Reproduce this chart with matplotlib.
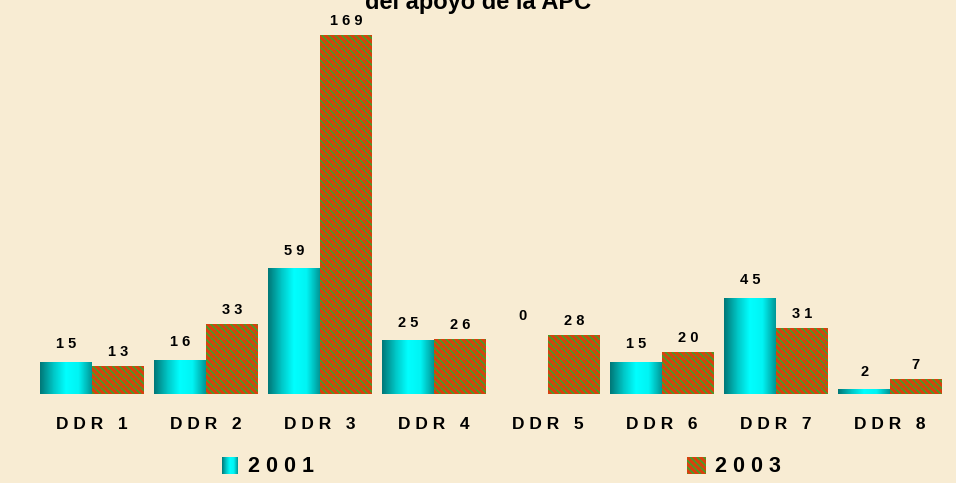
import numpy as np
import matplotlib.pyplot as plt
from matplotlib.colors import LinearSegmentedColormap

plt.rcParams['font.family'] = ['Liberation Sans', 'DejaVu Sans']
plt.rcParams['hatch.linewidth'] = 1.1

# data
categories = ['DDR 1', 'DDR 2', 'DDR 3', 'DDR 4', 'DDR 5', 'DDR 6', 'DDR 7', 'DDR 8']
v2001 = [15, 16, 59, 25, 0, 15, 45, 2]
v2003 = [13, 33, 169, 26, 28, 20, 31, 7]
series_names = ['2001', '2003']
title = 'del apoyo de la APC'

bg = '#f8ecd3'
red = '#d8400e'
green = '#38a82a'
fig = plt.figure(figsize=(9.56, 4.83), dpi=100, facecolor=bg)
ax = fig.add_axes([35 / 956, 89 / 483, 912 / 956, 394 / 483])
ax.set_facecolor(bg)
ax.set_xlim(-0.5, len(categories) - 0.5)
ax.set_ylim(0, 185.5)
for s in ax.spines.values():
    s.set_visible(False)
ax.set_xticks([])
ax.set_yticks([])

w = 0.455
x = np.arange(len(categories))

# 2001: horizontal gradient cyan bars
cyan = LinearSegmentedColormap.from_list('cy', ['#007878', '#00c4c4', '#00ffff', '#00f4f4', '#009898'])
grad = np.linspace(0, 1, 64).reshape(1, -1)
bars1 = ax.bar(x - w / 2, v2001, w, color='none', linewidth=0)
for b in bars1:
    if b.get_height() > 0:
        ax.imshow(grad, cmap=cyan, aspect='auto', interpolation='bilinear',
                  extent=[b.get_x(), b.get_x() + b.get_width(), 0, b.get_height()], zorder=2)

# 2003: red/green patterned bars
bars2 = ax.bar(x + w / 2, v2003, w, color=red, edgecolor=green, hatch='\\\\\\\\\\', linewidth=0, zorder=2)

def spaced(s):
    return ' '.join(s)

for i in range(len(categories)):
    top = max(v2001[i], v2003[i]) if v2001[i] == 0 else v2001[i]
    ax.annotate(spaced(str(v2001[i])), (x[i] - w / 2, top), xytext=(0, 8), textcoords='offset points',
                ha='center', va='bottom', fontsize=10.5, fontweight='bold')
    ax.annotate(spaced(str(v2003[i])), (x[i] + w / 2, v2003[i]), xytext=(0, 5), textcoords='offset points',
                ha='center', va='bottom', fontsize=10.5, fontweight='bold')
    ax.annotate(spaced(categories[i].replace(' ', '')).replace('R ', 'R   '), (x[i], 0), xytext=(0, -22),
                textcoords='offset points', ha='center', va='center', fontsize=12.5, fontweight='bold')

# legend
lx = [222, 687]
for j, name in enumerate(series_names):
    px = lx[j] / 956
    if j == 0:
        la = fig.add_axes([px, (483 - 474) / 483, 16 / 956, 17 / 483])
        la.imshow(grad, cmap=cyan, aspect='auto', interpolation='bilinear')
    else:
        la = fig.add_axes([px, (483 - 474) / 483, 19 / 956, 17 / 483])
        la.add_patch(plt.Rectangle((0, 0), 1, 1, facecolor=red, edgecolor=green, hatch='\\\\\\\\\\', linewidth=0))
        la.set_xlim(0, 1)
        la.set_ylim(0, 1)
    la.axis('off')
    fig.text(px + (26 if j == 0 else 28) / 956, (483 - 466) / 483, spaced(name), fontsize=15.5,
             fontweight='bold', va='center', ha='left')

fig.text(0.5, 1 - 9 / 483, title, fontsize=17, fontweight='bold', ha='center', va='baseline')

fig.savefig('out.png', dpi=100, facecolor=bg)
